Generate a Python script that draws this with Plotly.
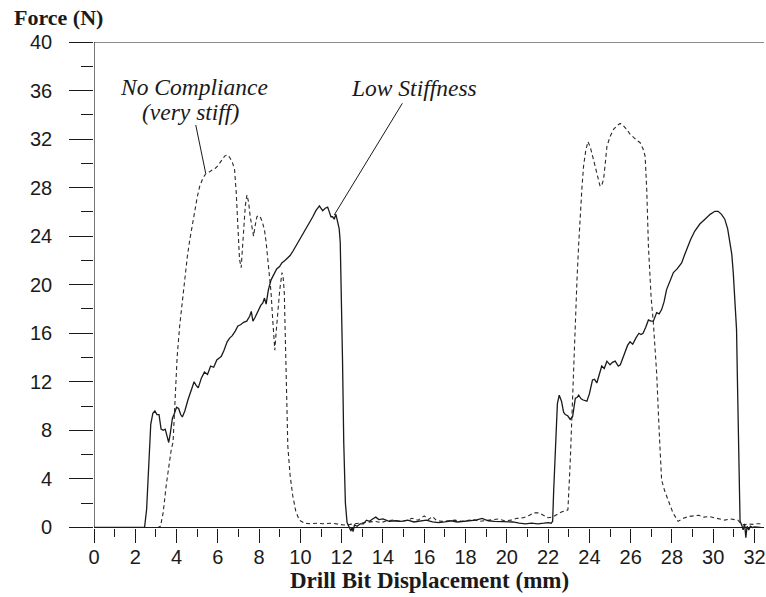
import plotly.graph_objects as go

# Low stiffness drilling run: displacement (mm) vs. force (N)
low_x = [0, 1, 2, 2.45, 2.55, 2.65, 2.75, 2.85, 2.95, 3.05, 3.15, 3.25, 3.35, 3.45, 3.55, 3.62,
         3.7, 3.8, 3.9, 4.0, 4.1, 4.2, 4.28, 4.4, 4.55, 4.7, 4.85, 4.95, 5.05, 5.2, 5.35, 5.5,
         5.65, 5.8, 5.95, 6.1, 6.17, 6.3, 6.45, 6.57, 6.7, 6.85, 6.97, 7.1, 7.25, 7.4, 7.54,
         7.62, 7.7, 7.8, 7.95, 8.08, 8.18, 8.26, 8.34, 8.45, 8.58, 8.7, 8.85, 8.99, 9.1, 9.25,
         9.39, 9.5, 9.65, 9.79, 9.95, 10.1, 10.25, 10.43, 10.6, 10.75, 10.92, 11.0, 11.08, 11.2,
         11.32, 11.4, 11.48, 11.56, 11.64, 11.72, 11.8, 11.88, 11.93, 12.0, 12.04, 12.1, 12.18,
         12.26, 12.35, 12.45, 12.5, 12.55, 12.62, 12.75, 12.9, 13.05, 13.2, 13.35, 13.5, 13.65,
         13.8, 14.0, 14.3, 14.6, 14.9, 15.2, 15.5, 15.8, 16.1, 16.4, 16.7, 17.0, 17.3, 17.6,
         17.9, 18.2, 18.5, 18.8, 19.1, 19.4, 19.7, 20.0, 20.3, 20.6, 20.9, 21.2, 21.5, 21.8,
         22.0, 22.15, 22.22, 22.27, 22.35, 22.45, 22.54, 22.65, 22.75, 22.83, 22.95, 23.07,
         23.19, 23.32, 23.4, 23.48, 23.6, 23.7, 23.88, 24.0, 24.15, 24.25, 24.36, 24.48, 24.6,
         24.72, 24.85, 25.0, 25.12, 25.25, 25.4, 25.5, 25.6, 25.73, 25.85, 25.97, 26.1, 26.25,
         26.4, 26.5, 26.6, 26.73, 26.86, 26.98, 27.1, 27.26, 27.38, 27.5, 27.62, 27.74, 27.9,
         28.07, 28.25, 28.47, 28.6, 28.71, 28.9, 29.1, 29.35, 29.6, 29.85, 30.08, 30.24, 30.4,
         30.56, 30.7, 30.8, 30.9, 30.97, 31.05, 31.13, 31.17, 31.22, 31.26, 31.3, 31.38, 31.45,
         31.52, 31.58, 31.64, 31.72, 31.8, 31.9, 32.0, 32.3]
low_f = [0, 0, 0, 0, 1.5, 5, 8.5, 9.4, 9.6, 9.3, 9.3, 8.1, 8.0, 8.1, 7.3, 7.0,
         7.8, 9.0, 9.4, 9.9, 9.8, 9.3, 9.1, 9.6, 10.5, 11.2, 12.0, 11.7, 11.5, 12.3, 12.8, 12.6,
         13.3, 13.2, 13.8, 14.0, 14.1, 14.6, 15.3, 15.6, 15.8, 16.2, 16.6, 16.7, 16.9, 17.0, 17.4,
         17.8, 17.0, 17.3, 17.9, 18.3, 18.5, 18.9, 18.4, 19.6, 20.4, 20.8, 21.3, 21.5, 21.8, 22.0,
         22.2, 22.4, 22.8, 23.2, 23.7, 24.1, 24.5, 25.1, 25.6, 26.1, 26.5, 26.3, 26.1, 26.3,
         26.4, 26.0, 25.6, 25.6, 25.4, 25.8, 25.1, 24.6, 23.5, 18, 13.8, 7, 2,
         0.4, 0.1, -0.3, 0.0, -0.35, 0.2, 0.1, 0.3, 0.3, 0.6, 0.5, 0.7, 0.85,
         0.65, 0.7, 0.5, 0.55, 0.5, 0.6, 0.45, 0.5, 0.6, 0.45, 0.4, 0.45, 0.55, 0.45,
         0.5, 0.55, 0.6, 0.75, 0.55, 0.5, 0.5, 0.45, 0.45, 0.35, 0.3, 0.35, 0.3, 0.35,
         0.4, 0.35, 0.5, 3, 7, 10.2, 10.9, 10.4, 9.5, 9.3, 9.2, 8.9,
         9.15, 10.65, 10.7, 10.9, 10.6, 10.5, 10.4, 11.0, 12.15, 12.2, 11.9, 12.6, 13.3,
         13.1, 13.7, 13.4, 13.6, 13.7, 13.3, 13.4, 13.9, 14.4, 15.0, 15.3, 15.1, 15.6,
         16.0, 15.9, 16.0, 16.5, 17.1, 17.0, 17.0, 17.7, 17.6, 17.95, 18.6, 19.6, 20.3,
         21.0, 21.3, 21.8, 22.4, 22.9, 23.7, 24.4, 25.0, 25.4, 25.8, 26.05, 26.05, 25.8,
         25.4, 24.6, 23.7, 22.5, 21.0, 18.5, 16.3, 12.4, 7, 2.5, 0.5, 0.2, -0.2,
         0.3, -0.85, 0.1, -0.2, 0.1, 0.0, 0.05, 0.0]

# No compliance (very stiff) drilling run
stiff_x = [0, 1, 2, 3.1, 3.22, 3.35, 3.5, 3.65, 3.75, 3.83, 3.9, 3.95, 4.03, 4.15, 4.28, 4.4,
           4.52, 4.64, 4.76, 4.88, 5.0, 5.12, 5.28, 5.44, 5.6, 5.76, 5.88, 6.0, 6.15, 6.33, 6.45,
           6.57, 6.7, 6.81, 6.89, 6.97, 7.05, 7.13, 7.2, 7.25, 7.33, 7.41, 7.49, 7.57, 7.65, 7.73,
           7.8, 7.89, 7.97, 8.05, 8.15, 8.26, 8.34, 8.42, 8.5, 8.58, 8.64, 8.7, 8.76, 8.83, 8.9,
           9.0, 9.11, 9.17, 9.22, 9.26, 9.3, 9.35, 9.39, 9.5, 9.63, 9.78, 9.95, 10.2, 10.5, 10.8,
           11.1, 11.5, 11.8, 12.1, 12.4, 12.7, 13.0, 13.3, 13.6, 13.9, 14.2, 14.5, 14.8, 15.1,
           15.4, 15.7, 16.0, 16.2, 16.4, 16.6, 16.9, 17.2, 17.5, 17.8, 18.1, 18.4, 18.7, 19.0,
           19.3, 19.6, 19.9, 20.2, 20.5, 20.8, 21.1, 21.3, 21.55, 21.8, 22.0, 22.2, 22.45, 22.67,
           22.85, 22.96, 23.07, 23.15, 23.24, 23.3, 23.4, 23.48, 23.56, 23.64, 23.72, 23.82,
           23.93, 24.05, 24.2, 24.36, 24.52, 24.6, 24.69, 24.77, 24.85, 25.0, 25.17, 25.33,
           25.49, 25.65, 25.81, 25.97, 26.14, 26.3, 26.46, 26.6, 26.7, 26.78, 26.86, 26.99,
           27.1, 27.26, 27.38, 27.5, 27.65, 27.8, 28.05, 28.3, 28.55, 28.8, 29.05, 29.3, 29.55,
           29.8, 30.05, 30.3, 30.55, 30.8, 31.0, 31.2, 31.35, 31.5, 31.7, 31.9, 32.1, 32.3]
stiff_f = [0, 0, 0, 0, 0.1, 1.2, 3.5, 5.5, 6.5, 7.0, 9.5, 11.8, 14.1, 16.6, 18.8, 20.7,
           22.3, 23.7, 25.0, 26.2, 27.2, 28.1, 28.8, 29.2, 29.3, 29.5, 29.6, 29.8, 30.2, 30.6, 30.7,
           30.5, 30.1, 29.5, 27.6, 24.3, 22.1, 21.4, 23.0, 24.8, 26.5, 27.4, 26.8, 25.6, 24.8, 24.0,
           24.8, 25.6, 25.7, 25.6, 25.2, 24.5, 23.5, 22.1, 20.8, 19.3, 17.6, 15.7, 14.6, 16.2, 17.9,
           19.6, 21.0, 20.5, 19.3, 16.5, 14.1, 10, 6.7, 4.3, 2.6, 1.3, 0.6, 0.35, 0.3, 0.35,
           0.3, 0.35, 0.3, 0.2, 0.25, 0.3, 0.35, 0.45, 0.5, 0.4, 0.55, 0.6, 0.5, 0.55,
           0.75, 0.6, 0.95, 0.65, 0.9, 0.55, 0.5, 0.55, 0.6, 0.5, 0.55, 0.65, 0.5, 0.55,
           0.6, 0.7, 0.55, 0.6, 0.75, 0.8, 1.0, 1.2, 1.2, 1.0, 0.8, 0.85, 1.1, 1.3,
           1.35, 1.45, 5.3, 9.4, 13.5, 16.3, 20.4, 23.3, 25.9, 28.0, 29.8, 31.0,
           31.8, 31.3, 30.3, 29.2, 28.1, 28.2, 28.7, 30.0, 31.4, 32.2, 32.8, 33.1,
           33.3, 33.1, 32.8, 32.4, 32.1, 31.9, 31.7, 31.2, 30.6, 27.8, 23.2, 19.0,
           16.85, 12.7, 8.0, 3.9, 3.0, 2.3, 1.2, 0.5, 0.75, 0.9, 0.95, 1.0, 0.85,
           0.9, 0.8, 0.7, 0.6, 0.7, 0.65, 0.6, 0.3, 0.2, 0.3, 0.25, 0.3, 0.3]

x_ticks = list(range(0, 33, 2))
y_ticks = list(range(0, 41, 4))

X_MAX = 32.46
Y_MIN, Y_MAX = -1.2, 40

# plot-area geometry in pixels (used to place labels in paper units)
W, H = 766, 597
ML, MR, MT, MB = 94, 0, 42, 55
PW, PH = W - ML - MR, H - MT - MB


def px_to_paper(px, py):
    return (px - ML) / PW, (H - MB - py) / PH


serif = "Liberation Serif, Times New Roman, serif"
sans = "Liberation Sans, Arial, sans-serif"
ink = "#1a1a1a"

fig = go.Figure()
fig.add_trace(go.Scatter(x=stiff_x, y=stiff_f, mode="lines",
                         line=dict(color="#2a2a2a", width=1.1, dash="4px,3px"),
                         name="No Compliance (very stiff)"))
fig.add_trace(go.Scatter(x=low_x, y=low_f, mode="lines",
                         line=dict(color=ink, width=1.3),
                         name="Low Stiffness"))

fig.update_layout(
    width=W, height=H,
    margin=dict(l=ML, r=MR, t=MT, b=MB),
    paper_bgcolor="white", plot_bgcolor="white",
    showlegend=False,
    xaxis=dict(range=[0, X_MAX], tickvals=x_ticks, ticktext=[str(v) for v in x_ticks],
               showgrid=False, zeroline=False, showline=True, linecolor=ink, linewidth=1.2,
               anchor="free", position=(0 - Y_MIN) / (Y_MAX - Y_MIN),
               ticks="outside", ticklen=14, tickwidth=1.2, tickcolor=ink,
               ticklabelstandoff=-3, ticklabeloverflow="allow",
               minor=dict(dtick=1, tick0=0, ticks="outside", ticklen=8, tickwidth=1.2,
                          tickcolor=ink, showgrid=False),
               tickfont=dict(family=sans, size=20, color=ink)),
    yaxis=dict(range=[Y_MIN, Y_MAX], tickvals=y_ticks, showticklabels=False,
               showgrid=False, zeroline=False, showline=False,
               ticks="outside", ticklen=24, tickwidth=1.2, tickcolor=ink,
               minor=dict(tickvals=list(range(2, 40, 4)), ticks="outside", ticklen=12,
                          tickwidth=1.2, tickcolor=ink, showgrid=False)),
)

# y tick labels, right-aligned a little left of the tick ends
lab_x, _ = px_to_paper(53, 0)
for v in y_ticks:
    fig.add_annotation(x=lab_x, y=v, xref="paper", yref="y", xanchor="right",
                       yanchor="middle", text=str(v), showarrow=False, borderpad=0,
                       font=dict(family=sans, size=20, color=ink))

# y-axis spine from 0 to 40 and the top frame line
fig.add_shape(type="line", xref="x", yref="y", x0=0, x1=0, y0=0, y1=40,
              line=dict(color=ink, width=1.2))
fig.add_shape(type="line", xref="paper", yref="y", x0=0, x1=1, y0=40, y1=40,
              line=dict(color=ink, width=1.2))

# leader lines for the curve labels
fig.add_shape(type="line", xref="x", yref="y", x0=4.93, y0=33.16, x1=5.41, y1=29.2,
              line=dict(color=ink, width=1))
fig.add_shape(type="line", xref="x", yref="y", x0=14.94, y0=34.95, x1=11.64, y1=25.75,
              line=dict(color=ink, width=1))

ital = dict(family=serif, size=23.5, color=ink)
fig.add_annotation(x=4.83, y=36.3, xref="x", yref="y", text="<i>No Compliance</i>",
                   showarrow=False, font=ital)
fig.add_annotation(x=4.69, y=34.25, xref="x", yref="y", text="<i>(very stiff)</i>",
                   showarrow=False, font=ital)
fig.add_annotation(x=15.5, y=36.2, xref="x", yref="y", text="<i>Low Stiffness</i>",
                   showarrow=False, font=ital)

# axis titles
fx, fy = px_to_paper(12, 18)
fig.add_annotation(x=fx, y=fy, xref="paper", yref="paper", xanchor="left", yanchor="middle",
                   text="<b>Force (N)</b>", showarrow=False,
                   font=dict(family=serif, size=22, color=ink))
tx, ty = px_to_paper(431, 580)
fig.add_annotation(x=tx, y=ty, xref="paper", yref="paper", xanchor="center", yanchor="middle",
                   text="<b>Drill Bit Displacement (mm)</b>", showarrow=False,
                   font=dict(family=serif, size=23, color=ink))

fig.write_html("out.html")
